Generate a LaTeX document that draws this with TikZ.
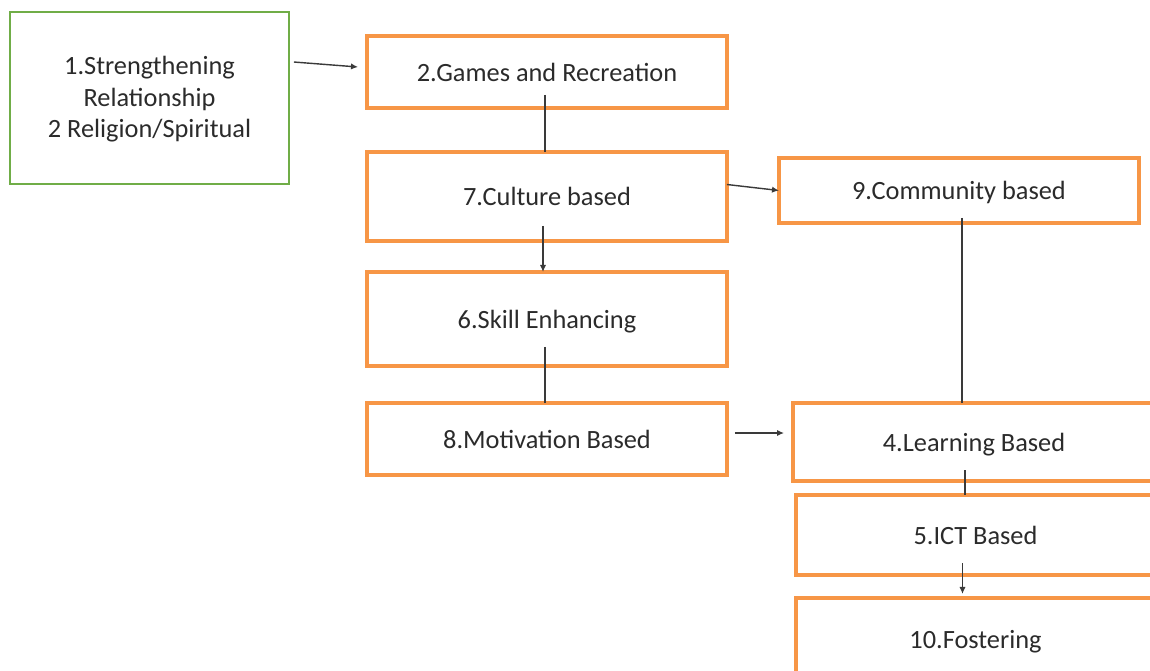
\documentclass[tikz,border=0pt]{standalone}
\usepackage{fontspec}
\setmainfont{Carlito}
\usetikzlibrary{arrows.meta,calc,positioning}
\definecolor{boxorange}{HTML}{F79646}
\definecolor{boxgreen}{HTML}{70AD47}
\definecolor{linkgray}{HTML}{3A3A3A}
\definecolor{txtgray}{HTML}{2B2B2B}

\begin{document}
\begin{tikzpicture}[x=0.02cm,y=-0.02cm,
	obox/.style={draw=boxorange,line width=2.3pt,fill=white,inner sep=0pt,outer sep=0pt,
		minimum width=7.2cm,text depth=0pt,text=txtgray,font=\fontsize{15}{18}\selectfont},
	gbox/.style={draw=boxgreen,line width=1.1pt,fill=white,inner sep=0pt,outer sep=0pt,
		align=center,text=txtgray,font=\fontsize{15}{18}\selectfont},
	link/.style={draw=linkgray,line width=0.8pt},
	arr/.style={link,-{Latex[length=4pt,width=3.6pt]}}]
\useasboundingbox (0,0) rectangle (1150,670);
\clip (0,0) rectangle (1150,670);
\node [gbox, minimum width=5.58cm, minimum height=3.44cm] (g) at (149.5,98) {\\[-6pt]1.Strengthening\\Relationship\\2 Religion/Spiritual};
\node [obox, minimum height=1.44cm] (b2) at (547,72) {2.Games and Recreation};
\node [obox, minimum height=1.78cm] (b7) at (547,196.5) {7.Culture based};
\node [obox, minimum height=1.3cm] (b9) at (959,190.5) {9.Community based};
\node [obox, minimum height=1.88cm] (b6) at (547,319) {6.Skill Enhancing};
\node [obox, minimum height=1.44cm] (b8) at (547,439) {8.Motivation Based};
\node [obox, minimum width=7.24cm, minimum height=1.56cm] (b4) at (974,442) {4.Learning Based};
\node [obox, minimum width=7.18cm, minimum height=1.6cm] (b5) at (975.5,535) {5.ICT Based};
\node [obox, minimum width=7.18cm, minimum height=1.64cm] (b10) at (975.5,639) {10.Fostering};
\draw [arr] ($(g.north east)+(5,50)$) -- ($(b2.west)+(-9,-5)$);
\draw [link] ($(b2.south)+(-2,-13)$) coordinate (s2) -- (s2 |- b7.north);
\draw [arr] ($(b7.east)+(0,-12)$) -- (b9.west);
\draw [arr] ($(b7.south)+(-4,-15)$) coordinate (s7) -- (s7 |- b6.north);
\draw [link] ($(b6.south)+(-2,-19)$) coordinate (s6) -- (s6 |- b8.north);
\draw [arr] ($(b8.east)+(8,-6)$) -- ($(b4.west)+(-9,-9)$);
\draw [link] ($(b9.south)+(3,-5)$) coordinate (s9) -- (s9 |- b4.north);
\draw [link] ($(b4.south)+(-9,-11)$) coordinate (s4) -- (s4 |- b5.north);
\draw [arr] ($(b5.south)+(-13,-12)$) coordinate (s5) -- ($(s5 |- b10.north)+(0,-4)$);
\end{tikzpicture}
\end{document}
